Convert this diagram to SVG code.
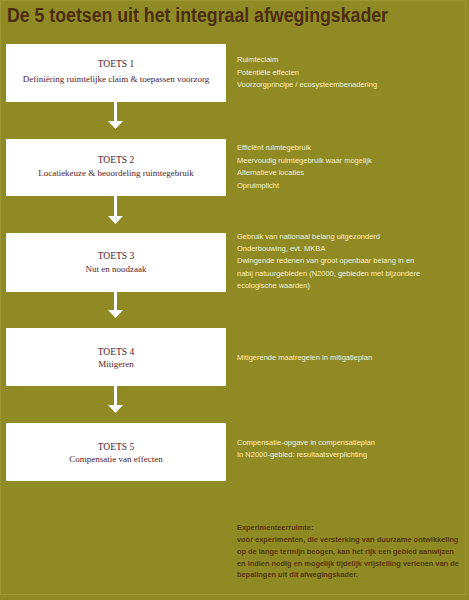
<svg xmlns="http://www.w3.org/2000/svg" width="469" height="600" viewBox="0 0 469 600">
<style>
.bg{fill:#908a25}
.box{fill:#ffffff}
.t1{font-family:"Liberation Serif",serif;font-size:9.5px;fill:#4f2231;text-anchor:middle}
.t2{font-family:"Liberation Serif",serif;font-size:9px;fill:#4f2231;text-anchor:middle}
.side{font-family:"Liberation Sans",Arial,sans-serif;font-size:7.5px;fill:#f4eecb}
.note{font-family:"Liberation Sans",Arial,sans-serif;font-size:7.4px;fill:#55380f;font-weight:bold}
.title{font-family:"Liberation Sans",Arial,sans-serif;font-size:20px;font-weight:bold;fill:#4a2e12}
.shaft{stroke:#ffffff;stroke-width:3;fill:none}
.head{fill:#ffffff}
</style>
<rect class="bg" x="0" y="0" width="469" height="600"/>
<rect x="0.5" y="0.5" width="465" height="594" fill="none" stroke="#9c9634" stroke-width="1"/>
<text class="title" x="7" y="22" textLength="381" lengthAdjust="spacingAndGlyphs">De 5 toetsen uit het integraal afwegingskader</text>

<g id="connectors">
<line class="shaft" x1="115.5" y1="102" x2="115.5" y2="122"/>
<polygon class="head" points="108,121 123,121 115.5,129"/>
<line class="shaft" x1="115.5" y1="196" x2="115.5" y2="217"/>
<polygon class="head" points="108,216 123,216 115.5,224"/>
<line class="shaft" x1="115.5" y1="292" x2="115.5" y2="311"/>
<polygon class="head" points="108,310 123,310 115.5,318"/>
<line class="shaft" x1="115.5" y1="386" x2="115.5" y2="406"/>
<polygon class="head" points="108,405 123,405 115.5,413"/>
</g>

<g id="toets1">
<rect class="box" x="6" y="44" width="220" height="58"/>
<text class="t1" x="116" y="67">TOETS 1</text>
<text class="t2" x="116" y="82">Definiëring ruimtelijke claim &amp; toepassen voorzorg</text>
<text class="side" x="237" y="62">Ruimteclaim</text>
<text class="side" x="237" y="74.5">Potentiële effecten</text>
<text class="side" x="237" y="87">Voorzorgprincipe / ecosysteembenadering</text>
</g>

<g id="toets2">
<rect class="box" x="6" y="139" width="220" height="57"/>
<text class="t1" x="116" y="163">TOETS 2</text>
<text class="t2" x="116" y="175.5">Locatiekeuze &amp; beoordeling ruimtegebruik</text>
<text class="side" x="237" y="150">Efficiënt ruimtegebruik</text>
<text class="side" x="237" y="162.5">Meervoudig ruimtegebruik waar mogelijk</text>
<text class="side" x="237" y="175">Alternatieve locaties</text>
<text class="side" x="237" y="187.5">Opruimplicht</text>
</g>

<g id="toets3">
<rect class="box" x="6" y="233" width="220" height="59"/>
<text class="t1" x="116" y="259">TOETS 3</text>
<text class="t2" x="116" y="271.5">Nut en noodzaak</text>
<text class="side" x="237" y="239">Gebruik van nationaal belang uitgezonderd</text>
<text class="side" x="237" y="251">Onderbouwing, evt. MKBA</text>
<text class="side" x="237" y="263">Dwingende redenen van groot openbaar belang in en</text>
<text class="side" x="237" y="275.5">nabij natuurgebieden (N2000, gebieden met bijzondere</text>
<text class="side" x="237" y="287.5">ecologische waarden)</text>
</g>

<g id="toets4">
<rect class="box" x="6" y="328" width="220" height="58"/>
<text class="t1" x="116" y="355">TOETS 4</text>
<text class="t2" x="116" y="366.5">Mitigeren</text>
<text class="side" x="237" y="360">Mitigerende maatregelen in mitigatieplan</text>
</g>

<g id="toets5">
<rect class="box" x="6" y="423" width="220" height="58"/>
<text class="t1" x="116" y="450">TOETS 5</text>
<text class="t2" x="116" y="461.5">Compensatie van effecten</text>
<text class="side" x="237" y="445">Compensatie-opgave in compensatieplan</text>
<text class="side" x="237" y="457">In N2000-gebied: resultaatsverplichting</text>
</g>

<g id="experimenteerruimte">
<text class="note" x="237" y="530">Experimenteerruimte:</text>
<text class="note" x="237" y="542">voor experimenten, die versterking van duurzame ontwikkeling</text>
<text class="note" x="237" y="553.5">op de lange termijn beogen, kan het rijk een gebied aanwijzen</text>
<text class="note" x="237" y="565.5">en indien nodig en mogelijk tijdelijk vrijstelling verlenen van de</text>
<text class="note" x="237" y="577">bepalingen uit dit afwegingskader.</text>
</g>
</svg>
